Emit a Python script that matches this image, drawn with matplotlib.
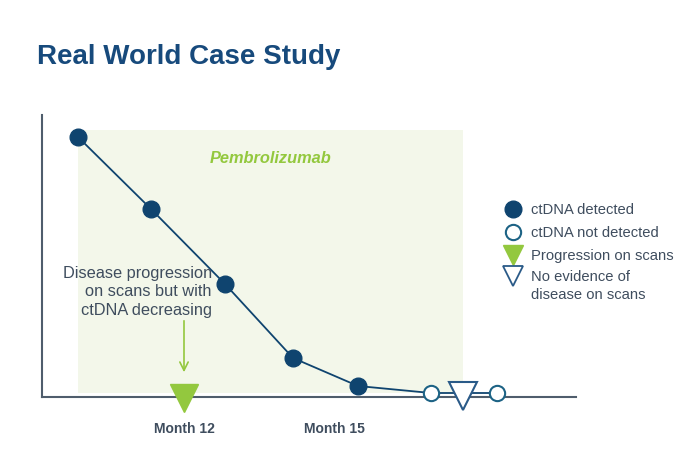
import matplotlib.pyplot as plt
from matplotlib.lines import Line2D

# data (x in months, y = relative ctDNA level)
detected_month = [9.88, 11.34, 12.82, 14.18, 15.48]
detected_level = [260, 188, 113, 39, 11]
not_detected_month = [16.94, 18.26]
not_detected_level = [4, 4]
progression_month = [12.0]
no_evidence_month = [17.58]
tick_months = [12, 15]
tick_labels = ['Month 12', 'Month 15']
therapy_start, therapy_end = 9.88, 17.58

navy = '#0f446f'
title_col = '#174a7c'
green = '#93c83e'
text_col = '#3f4d5e'

plt.rcParams['font.family'] = ['Liberation Sans', 'DejaVu Sans']

W, H = 695, 470
fig = plt.figure(figsize=(W / 100, H / 100), dpi=100)
ax = fig.add_axes([42 / W, (H - 397) / H, (576 - 42) / W, (397 - 115) / H])
ax.set_xlim(9.16, 19.84)
ax.set_ylim(0, 282)

# treatment window
ax.axvspan(therapy_start, therapy_end, ymin=4 / 282, ymax=267 / 282,
           color='#f3f7ea', lw=0, zorder=0)
ax.text(13.74, 239, 'Pembrolizumab', color=green,
        fontsize=11.8, fontweight='bold', fontstyle='italic', ha='center', va='center')

# ctDNA line
xs = detected_month + not_detected_month
ys = detected_level + not_detected_level
ax.plot(xs, ys, color=navy, lw=1.3, zorder=2)
ax.plot(detected_month, detected_level, 'o', ms=12, color=navy, zorder=4)
ax.plot(not_detected_month, not_detected_level, 'o', ms=11, mfc='white',
        mec='#1d6385', mew=1.5, zorder=4, clip_on=False)
ax.plot(no_evidence_month, [1], 'v', ms=20, mfc='white', mec='#2a5a88',
        mew=1.5, zorder=5, clip_on=False)
ax.plot(progression_month, [-1], 'v', ms=20, color=green, mec=green,
        zorder=5, clip_on=False)

# annotation
ax.annotate('', xy=(progression_month[0], 22), xytext=(progression_month[0], 79),
            arrowprops=dict(arrowstyle='->,head_length=0.6,head_width=0.3',
                            color=green, lw=1.2))
ax.text(12.56, 105, 'Disease progression\non scans but with\nctDNA decreasing',
        ha='right', va='center', color=text_col, fontsize=11.8, linespacing=1.3)

# axes styling
for side in ['top', 'right']:
    ax.spines[side].set_visible(False)
for side in ['left', 'bottom']:
    ax.spines[side].set_color('#4f5d6c')
    ax.spines[side].set_linewidth(1.5)
ax.set_yticks([])
ax.set_xticks(tick_months)
ax.set_xticklabels(tick_labels, fontsize=10, fontweight='bold', color=text_col)
ax.tick_params(axis='x', length=0, pad=18)

fig.text(37 / W, 1 - 57 / H, 'Real World Case Study', fontsize=20,
         fontweight='bold', color=title_col, va='center')

# legend
lx, tx = 513 / W, 531 / W
legend_items = [
    (209, dict(marker='o', ms=12, color=navy), ['ctDNA detected']),
    (232, dict(marker='o', ms=11, mfc='white', mec='#1d6385', mew=1.5), ['ctDNA not detected']),
    (255, dict(marker='v', ms=14, color=green), ['Progression on scans']),
    (276, dict(marker='v', ms=15, mfc='white', mec='#2a5a88', mew=1.3),
     ['No evidence of', 'disease on scans']),
]
for py, style, lines in legend_items:
    fig.add_artist(Line2D([lx], [1 - py / H], transform=fig.transFigure, ls='none', **style))
    for i, line in enumerate(lines):
        fig.text(tx, 1 - (py + 1 + 18 * i) / H, line, fontsize=10.6,
                 color=text_col, va='center')

fig.savefig('out.png', dpi=100)
